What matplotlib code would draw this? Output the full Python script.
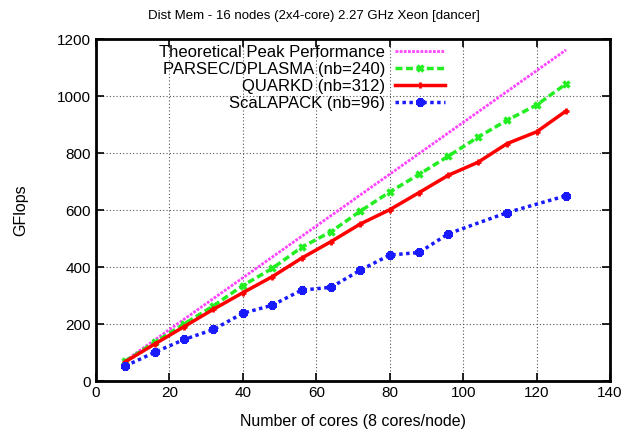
import numpy as np
import matplotlib.pyplot as plt

plt.rcParams['font.family'] = ['Liberation Sans', 'DejaVu Sans']

# cores used (8 cores per node)
cores = [8, 16, 24, 32, 40, 48, 56, 64, 72, 80, 88, 96, 104, 112, 120, 128]
peak = [72.6, 145.3, 217.9, 290.6, 363.2, 435.8, 508.5, 581.1,
        653.8, 726.4, 799.0, 871.7, 944.3, 1017.0, 1089.6, 1162.2]
parsec = [71, 137, 201, 265, 336, 396, 470, 525,
          597, 664, 726, 790, 856, 916, 969, 1043]
quarkd = [69, 131, 192, 253, 311, 367, 432, 490,
          552, 602, 662, 723, 768, 834, 875, 948]
scal_cores = [8, 16, 24, 32, 40, 48, 56, 64, 72, 80, 88, 96, 112, 128]
scalapack = [54, 102, 147, 182, 239, 267, 320, 330,
             390, 443, 452, 518, 592, 651]

labels = ["Theoretical Peak Performance", "PARSEC/DPLASMA (nb=240)",
          "QUARKD (nb=312)", "ScaLAPACK (nb=96)"]

fig = plt.figure(figsize=(6.27, 4.30), dpi=100)
ax = fig.add_axes([0.153, 0.113, 0.820, 0.796])

ax.plot(cores, peak, color="#ff44ff", lw=2, ls=(0, (1, 0.5)), label=labels[0])
ax.plot(cores, parsec, color="#22ee22", lw=2.5, ls=(0, (2, 1)),
        marker="x", ms=5, mew=2.5, label=labels[1])
ax.plot(cores, quarkd, color="#ff0000", lw=2.5, ls="-",
        marker="+", ms=5, mew=2, label=labels[2])
ax.plot(scal_cores, scalapack, color="#1a1aff", lw=2.5, ls=(0, (1, 1)),
        marker=(8, 2, 0), ms=6, mew=2.5, label=labels[3])

ax.set_xlim(0, 140)
ax.set_ylim(0, 1200)
ax.set_xticks(np.arange(0, 141, 20))
ax.set_yticks(np.arange(0, 1201, 200))
ax.grid(True, color="#555555", ls=(0, (1, 2)), lw=0.8)
ax.tick_params(direction="in", top=True, right=True, length=6, width=1.2, labelsize=11)
for s in ax.spines.values():
    s.set_linewidth(2)

ax.set_xlabel("Number of cores (8 cores/node)", fontsize=11.5, labelpad=10)
ax.set_ylabel("GFlops", fontsize=11.5, labelpad=21)
fig.text(0.5, 0.962, "Dist Mem - 16 nodes (2x4-core) 2.27 GHz Xeon [dancer]",
         ha="center", va="center", fontsize=9.5)

leg = ax.legend(loc="upper right", bbox_to_anchor=(0.679, 0.982), frameon=False,
                markerfirst=False, fontsize=12, handlelength=3.0,
                labelspacing=0.12, handletextpad=0.6, borderaxespad=0, borderpad=0)
for t in leg.get_texts():
    t.set_ha("right")
leg._legend_box.align = "right"

fig.savefig("out.png", dpi=100)
